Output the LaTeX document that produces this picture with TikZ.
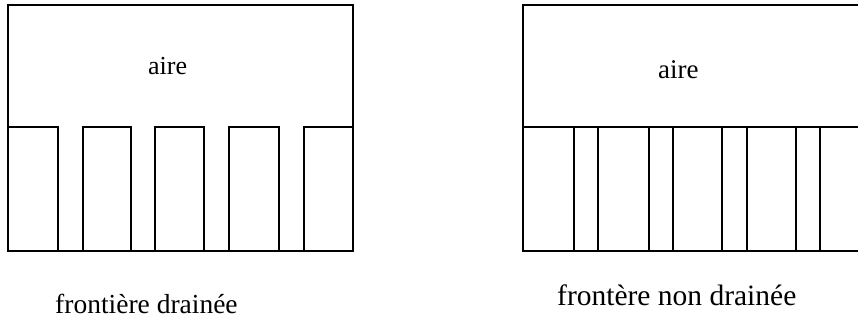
\documentclass[tikz,border=0pt]{standalone}
\usepackage{fontspec}
\setmainfont{Liberation Serif}
\begin{document}
\begin{tikzpicture}[x=1pt,y=-1pt,
  wall/.style={draw=black,line width=1.6pt,line join=miter},
  lbl/.style={inner sep=0pt,anchor=base west,text=black}]
\useasboundingbox[fill=white] (0,0) rectangle (858,322);
% left diagram: drained boundary
\draw[wall] (8,5) rectangle (353,251);
\foreach \a/\b in {8/58,83/131,155/204,229/279,304/353}{
  \draw[wall] (\a,251) -- (\a,127) -- (\b,127) -- (\b,251);
}
\node[lbl,font=\fontsize{26}{30}\selectfont] (aireL) at (148,74) {aire};
\node[lbl,font=\fontsize{27.5}{32}\selectfont] (labL) at (55,313) {frontière drainée};
% right diagram: undrained boundary
\draw[wall] (862,5) -- (523,5) -- (523,251) -- (862,251);
\draw[wall] (523,127) -- (862,127);
\foreach \a in {574,598,649,673,722,747,796,820}{
  \draw[wall] (\a,127) -- (\a,251);
}
\node[lbl,font=\fontsize{27}{32}\selectfont] (aireR) at (658,78) {aire};
\node[lbl,font=\fontsize{29.5}{34}\selectfont] (labR) at (557,305) {frontère non drainée};
\end{tikzpicture}
\end{document}
